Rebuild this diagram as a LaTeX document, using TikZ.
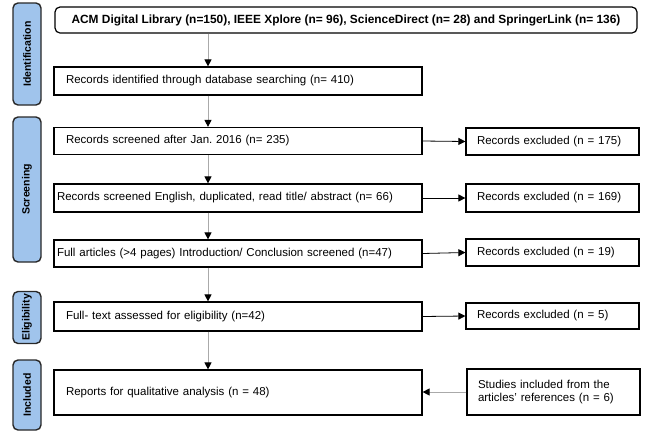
\documentclass[tikz,border=0pt]{standalone}
\usepackage{fontspec}
\setmainfont{Liberation Sans}
\frenchspacing
\usetikzlibrary{arrows.meta,positioning,calc}
\definecolor{stageblue}{RGB}{160,196,236}
\definecolor{stageedge}{RGB}{40,40,40}
\definecolor{vline}{RGB}{170,170,170}
\tikzset{
  stagebox/.style={draw=stageedge, line width=1.4pt, fill=stageblue, rounded corners=5pt,
    minimum height=28pt, inner sep=0pt, font=\bfseries\fontsize{10.5}{12}\selectfont, rotate=90},
  lbox/.style={draw=black, line width=1.2pt, minimum width=368pt, inner xsep=12pt, inner ysep=0pt,
    text width=344pt, align=left, font=\fontsize{11.5}{14}\selectfont},
  rbox/.style={draw=black, line width=1.2pt, minimum width=173pt, inner xsep=11pt, inner ysep=0pt,
    text width=151pt, align=left, font=\fontsize{11.5}{14}\selectfont},
  topbox/.style={draw=black, line width=1.2pt, rounded corners=5pt, minimum width=582pt, minimum height=26pt,
    inner sep=0pt, font=\bfseries\fontsize{11.9}{14}\selectfont},
  varrow/.style={draw=vline, line width=1pt, -{Triangle[length=7pt,width=7pt,fill=black,color=black]}},
  harrow/.style={draw=black, line width=0.8pt, -{Triangle[length=7pt,width=7pt]}}
}
\begin{document}
\begin{tikzpicture}[x=1pt,y=-1pt]
\useasboundingbox (0,0) rectangle (646,432);
% stage labels
\node[stagebox, minimum width=102pt] (sid) at (27,54) {Identification};
\node[stagebox, minimum width=145pt] (ssc) at (27,189.5) {Screening};
\node[stagebox, minimum width=52pt] (sel) at (27,317.5) {Eligibility};
\node[stagebox, minimum width=70pt] (sin) at (27,395) {Included};
% boxes
\node[topbox] (top) at (346,20) {ACM Digital Library (n=150), IEEE Xplore (n= 96), ScienceDirect (n= 28) and SpringerLink (n= 136)};
\node[lbox, minimum height=28pt] (b2) at (238,81) {Records identified through database searching (n= 410)};
\node[lbox, minimum height=27pt] (b3) at (238,141) {Records screened after Jan. 2016 (n= 235)};
\node[lbox, minimum height=28pt, inner xsep=3pt, text width=362pt] (b4) at (238,198) {Records screened English, duplicated, read title/ abstract (n= 66)};
\node[lbox, minimum height=27pt, inner xsep=3pt, text width=362pt] (b5) at (238,253.5) {Full articles (>4 pages) Introduction/ Conclusion screened (n=47)};
\node[lbox, minimum height=29pt] (b6) at (238,316.5) {Full- text assessed for eligibility (n=42)};
\node[lbox, minimum height=45pt] (b7) at (238,392.5) {Reports for qualitative analysis (n = 48)};
\node[rbox, minimum height=27pt] (e1) at (552.5,141.5) {Records excluded (n = 175)};
\node[rbox, minimum height=28pt] (e2) at (552.5,198) {Records excluded (n = 169)};
\node[rbox, minimum height=27pt] (e3) at (552.5,252.5) {Records excluded (n = 19)};
\node[rbox, minimum height=26pt] (e4) at (552.5,316) {Records excluded (n = 5)};
\node[rbox, minimum height=46pt, font=\fontsize{11.5}{13.5}\selectfont] (st) at (553.5,392) {Studies included from the\\articles' references (n = 6)};
% connectors
\coordinate (ax) at (208,0);
\draw[varrow] (top.south -| ax) -- (b2.north -| ax);
\draw[varrow] (b2.south -| ax) -- (b3.north -| ax);
\draw[varrow] (b3.south -| ax) -- (b4.north -| ax);
\draw[varrow] (b4.south -| ax) -- (b5.north -| ax);
\draw[varrow] (b5.south -| ax) -- (b6.north -| ax);
\draw[varrow] (b6.south -| ax) -- (b7.north -| ax);
\draw[harrow] (b3.east) -- (e1.west);
\draw[harrow] (b4.east) -- (e2.west);
\draw[harrow] (b5.east) -- (e3.west);
\draw[harrow] (b6.east) -- (e4.west);
\draw[varrow] (st.west) -- (st.west -| b7.east);
\end{tikzpicture}
\end{document}
